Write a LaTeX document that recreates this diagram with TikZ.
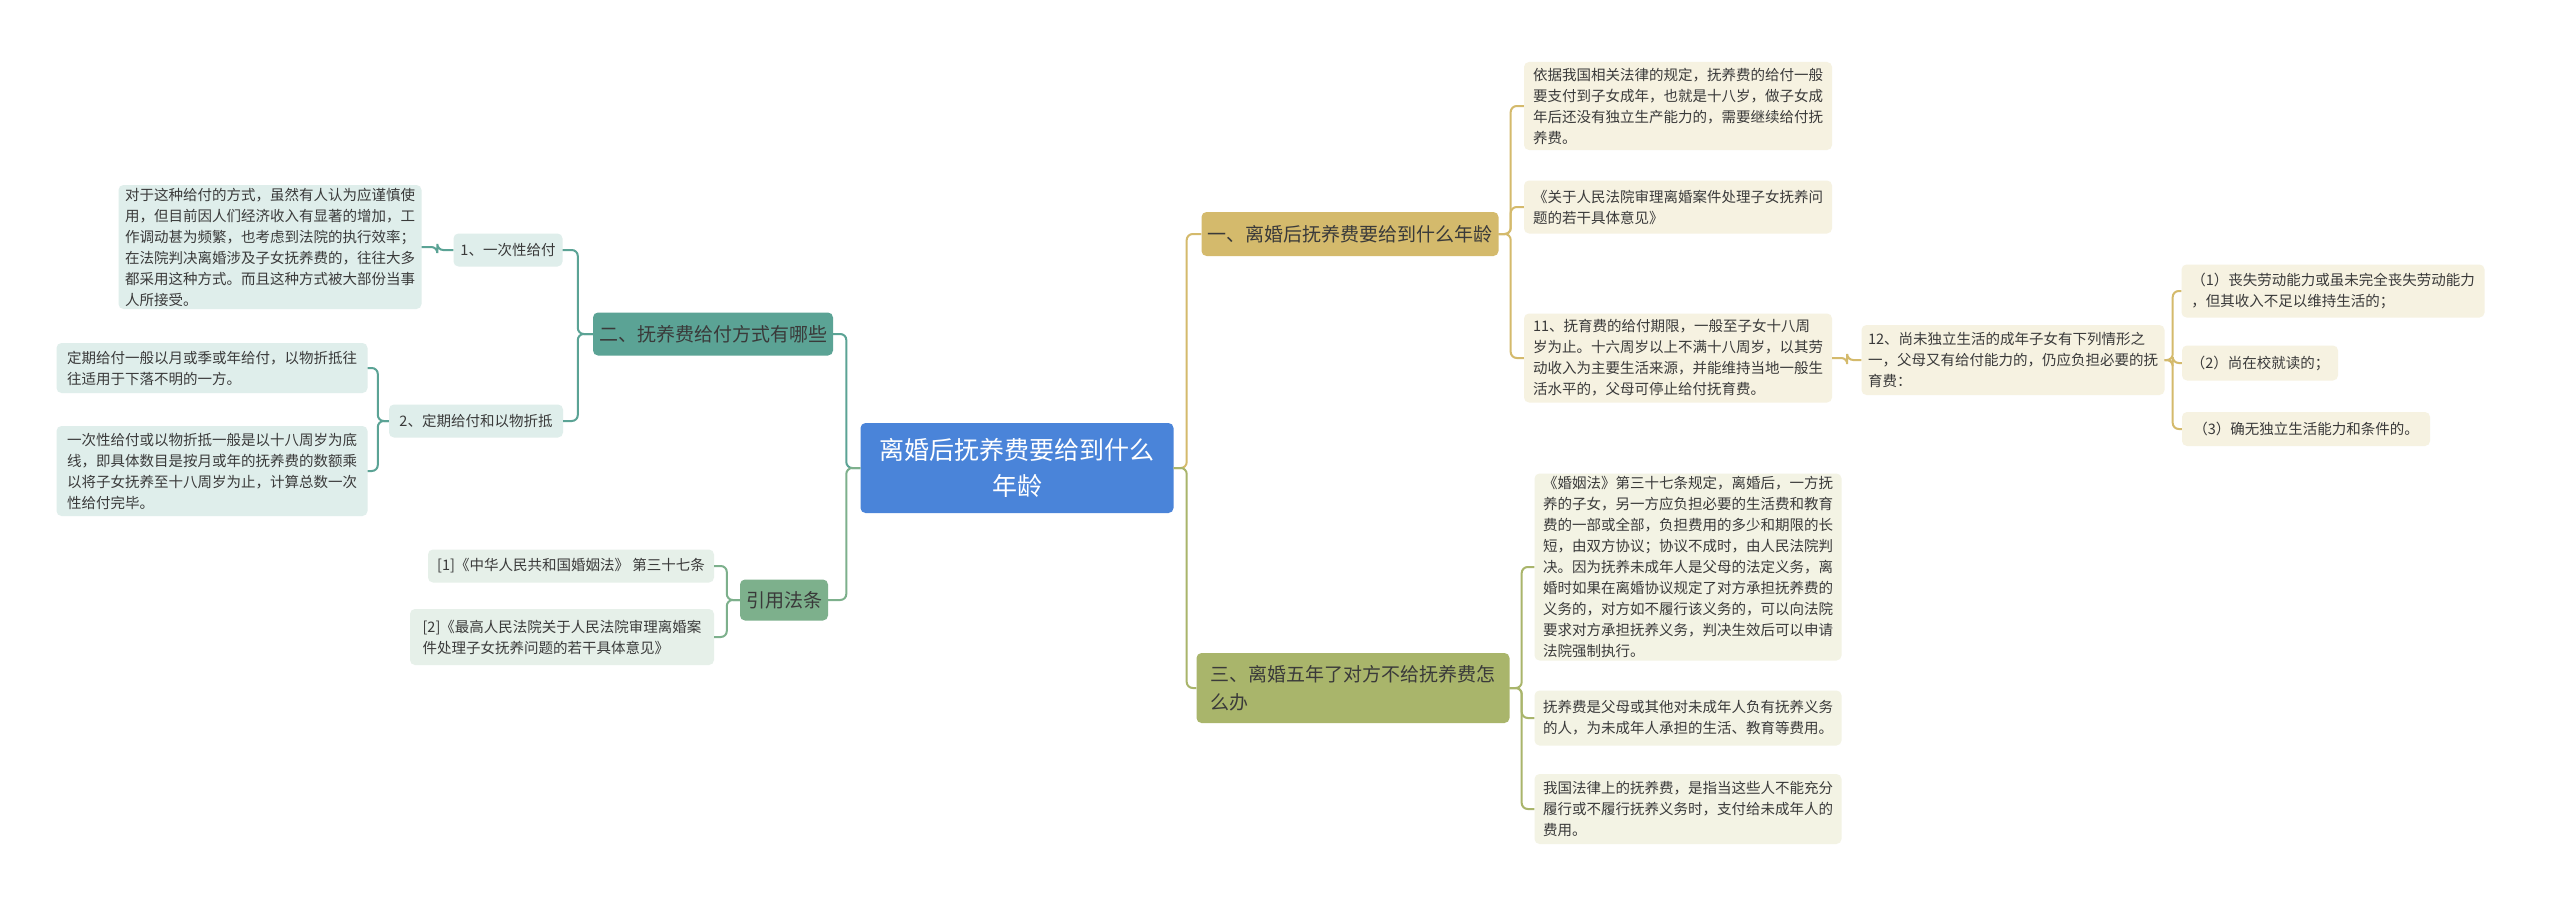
\documentclass[tikz,border=0pt]{standalone}
\usepackage{fontspec}
\setmainfont{Noto Sans CJK SC}
\definecolor{root}{HTML}{4A84D9}
\definecolor{tan}{HTML}{D4BA6C}
\definecolor{tanl}{HTML}{F6F2E1}
\definecolor{oli}{HTML}{A9B56B}
\definecolor{olil}{HTML}{F3F3E4}
\definecolor{teal}{HTML}{5BA395}
\definecolor{teall}{HTML}{DFEEEB}
\definecolor{grn}{HTML}{7DB08C}
\definecolor{grnl}{HTML}{E6F0E9}
\definecolor{txt}{HTML}{3A3A3A}
\begin{document}
\begin{tikzpicture}[x=1pt,y=-1pt,
 box/.style={rectangle,rounded corners=5pt,align=left,inner sep=0pt,text=txt,font=\fontsize{14.5}{21}\selectfont},
 br/.style={rectangle,rounded corners=5pt,align=left,inner sep=0pt,text=txt,font=\fontsize{19}{28}\selectfont},
 ln/.style={line width=2pt,rounded corners=6pt}]
\fill[white] (0,0) rectangle (2560,907);
\node[rectangle,rounded corners=5pt,fill=root,text=white,align=center,minimum width=313,minimum height=90,font=\fontsize{25}{36}\selectfont] (root) at (1017,468) {离婚后抚养费要给到什么\\年龄};
% branch 1
\node[br,fill=tan,minimum width=297,minimum height=44] (b1) at (1350,234) {一、离婚后抚养费要给到什么年龄};
\node[box,fill=tanl,minimum width=308,minimum height=88] (a) at (1678,106) {依据我国相关法律的规定，抚养费的给付一般\\要支付到子女成年，也就是十八岁，做子女成\\年后还没有独立生产能力的，需要继续给付抚\\养费。};
\node[box,fill=tanl,minimum width=308,minimum height=53] (b) at (1678,207) {《关于人民法院审理离婚案件处理子女抚养问\\题的若干具体意见》};
\node[box,fill=tanl,minimum width=308,minimum height=89] (c) at (1678,358) {11、抚育费的给付期限，一般至子女十八周\\岁为止。十六周岁以上不满十八周岁，以其劳\\动收入为主要生活来源，并能维持当地一般生\\活水平的，父母可停止给付抚育费。};
\node[box,fill=tanl,minimum width=303,minimum height=70] (d) at (2013,360) {12、尚未独立生活的成年子女有下列情形之\\一，父母又有给付能力的，仍应负担必要的抚\\育费：};
\node[box,fill=tanl,minimum width=303,minimum height=53] (e1) at (2333,291) {（1）丧失劳动能力或虽未完全丧失劳动能力\\，但其收入不足以维持生活的；};
\node[box,fill=tanl,minimum width=156,minimum height=35] (e2) at (2260,363) {（2）尚在校就读的；};
\node[box,fill=tanl,minimum width=248,minimum height=34] (e3) at (2306,429) {（3）确无独立生活能力和条件的。};
% branch 3
\node[br,fill=oli,minimum width=313,minimum height=70] (b3) at (1353,688) {三、离婚五年了对方不给抚养费怎\\么办};
\node[box,fill=olil,minimum width=307,minimum height=187] (f) at (1688,567) {《婚姻法》第三十七条规定，离婚后，一方抚\\养的子女，另一方应负担必要的生活费和教育\\费的一部或全部，负担费用的多少和期限的长\\短，由双方协议；协议不成时，由人民法院判\\决。因为抚养未成年人是父母的法定义务，离\\婚时如果在离婚协议规定了对方承担抚养费的\\义务的，对方如不履行该义务的，可以向法院\\要求对方承担抚养义务，判决生效后可以申请\\法院强制执行。};
\node[box,fill=olil,minimum width=307,minimum height=55] (g) at (1688,718) {抚养费是父母或其他对未成年人负有抚养义务\\的人，为未成年人承担的生活、教育等费用。};
\node[box,fill=olil,minimum width=307,minimum height=70] (h) at (1688,809) {我国法律上的抚养费，是指当这些人不能充分\\履行或不履行抚养义务时，支付给未成年人的\\费用。};
% branch 2
\node[br,fill=teal,minimum width=240,minimum height=43] (b2) at (713,334) {二、抚养费给付方式有哪些};
\node[box,fill=teall,minimum width=109,minimum height=33] (i) at (508,250) {1、一次性给付};
\node[box,fill=teall,minimum width=174,minimum height=33] (j) at (476,421) {2、定期给付和以物折抵};
\node[box,fill=teall,minimum width=303,minimum height=124] (ic) at (270,247) {对于这种给付的方式，虽然有人认为应谨慎使\\用，但目前因人们经济收入有显著的增加，工\\作调动甚为频繁，也考虑到法院的执行效率；\\在法院判决离婚涉及子女抚养费的，往往大多\\都采用这种方式。而且这种方式被大部份当事\\人所接受。};
\node[box,fill=teall,minimum width=311,minimum height=50] (k1) at (212,368) {定期给付一般以月或季或年给付，以物折抵往\\往适用于下落不明的一方。};
\node[box,fill=teall,minimum width=311,minimum height=90] (k2) at (212,471) {一次性给付或以物折抵一般是以十八周岁为底\\线，即具体数目是按月或年的抚养费的数额乘\\以将子女抚养至十八周岁为止，计算总数一次\\性给付完毕。};
% branch 4
\node[br,fill=grn,minimum width=88,minimum height=41] (b4) at (784,600) {引用法条};
\node[box,fill=grnl,minimum width=286,minimum height=33] (l1) at (571,566) {[1]《中华人民共和国婚姻法》 第三十七条};
\node[box,fill=grnl,minimum width=304,minimum height=56] (l2) at (562,637) {[2]《最高人民法院关于人民法院审理离婚案\\件处理子女抚养问题的若干具体意见》};
% connectors
\foreach \c in {b1} \draw[ln,tan] (root.east) -- +(13,0) |- (\c.west);
\draw[ln,oli] (root.east) -- +(13,0) |- (b3.west);
\draw[ln,teal] (root.west) -- +(-14,0) |- (b2.east);
\draw[ln,grn] (root.west) -- +(-14,0) |- (b4.east);
\foreach \c in {a,b,c} \draw[ln,tan] (b1.east) -- +(12,0) |- (\c.west);
\draw[ln,tan] (c.east) -- +(15,0) |- (d.west);
\foreach \c in {e1,e2,e3} \draw[ln,tan] (d.east) -- +(8,0) |- (\c.west);
\foreach \c in {f,g,h} \draw[ln,oli] (b3.east) -- +(12,0) |- (\c.west);
\foreach \c in {i,j} \draw[ln,teal] (b2.west) -- +(-15,0) |- (\c.east);
\draw[ln,teal] (i.west) -- +(-16,0) |- (ic.east);
\foreach \c in {k1,k2} \draw[ln,teal] (j.west) -- +(-11,0) |- (\c.east);
\foreach \c in {l1,l2} \draw[ln,grn] (b4.west) -- +(-13,0) |- (\c.east);
\end{tikzpicture}
\end{document}
